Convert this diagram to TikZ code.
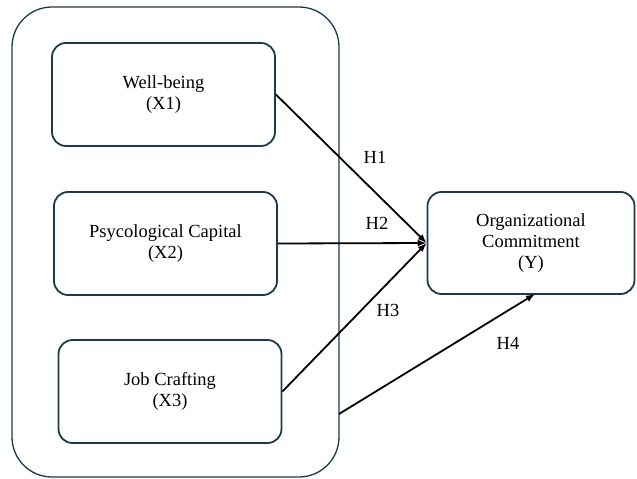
\documentclass[tikz,border=0pt]{standalone}
\usepackage{fontspec}
\setmainfont{Liberation Serif}
\usetikzlibrary{arrows.meta}
\definecolor{boxline}{RGB}{28,58,78}
\begin{document}
\begin{tikzpicture}[x=1pt,y=-1pt,
    varbox/.style={draw=boxline,line width=1.8pt,rounded corners=14pt,align=center,
        minimum width=223pt,minimum height=103pt,inner sep=0pt,font=\fontsize{18.5}{21}\selectfont},
    hyplabel/.style={font=\fontsize{18.5}{21}\selectfont,inner sep=0pt},
    link/.style={line width=1.8pt,-{Latex[length=9pt,width=7pt]}}]
                \useasboundingbox (0,0) rectangle (637,479);
                \node[draw=boxline,line width=1.3pt,rounded corners=40pt,minimum width=327pt,minimum height=470pt] (grp) at (175.5,242) {};
                \node[varbox] (wb) at (163.5,94.5) {Well-being\\(X1)};
                \node[varbox] (pc) at (165.5,243.5) {Psycological Capital\\(X2)};
                \node[varbox] (jc) at (170,391.5) {Job Crafting\\(X3)};
                \node[varbox,minimum width=207pt,minimum height=102pt] (oc) at (531,243) {Organizational\\Commitment\\(Y)};

                \coordinate (meet) at (oc.west);
                \coordinate (grpout) at (339,414);
                \coordinate (ocin) at (535,294);
                \draw[link] (wb.east) -- (meet);
                \draw[link] (pc.east) -- (meet);
                \draw[link] (jc.east) -- (meet);
                \draw[link] (grpout) -- (ocin);

                \node[hyplabel] (h1) at (375,157) {H1};
                \node[hyplabel] (h2) at (377,223) {H2};
                \node[hyplabel] (h3) at (388,310) {H3};
                \node[hyplabel] (h4) at (508,343) {H4};
\end{tikzpicture}
\end{document}
